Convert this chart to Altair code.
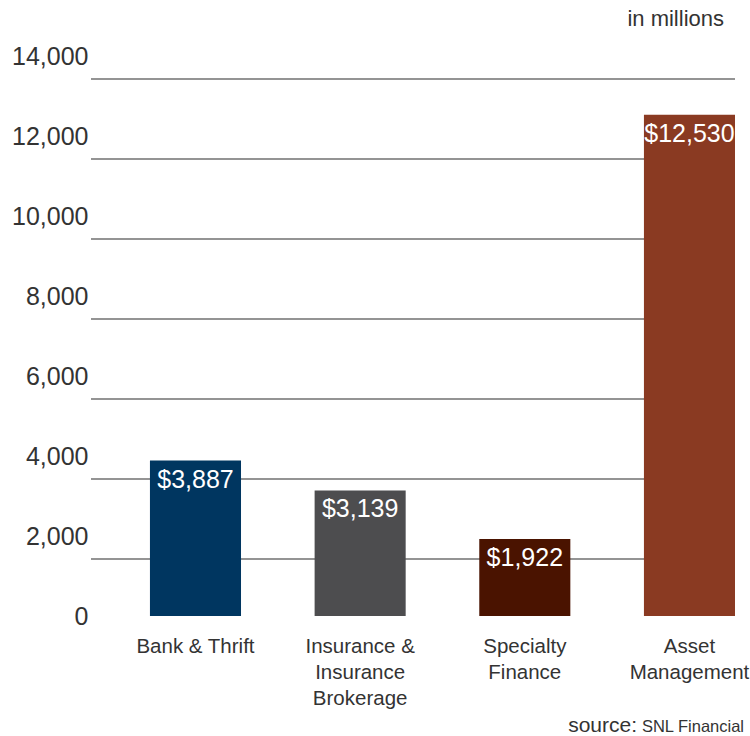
import altair as alt
import pandas as pd

# Sector totals (USD millions)
sectors = ["Bank & Thrift", "Insurance &\nInsurance\nBrokerage", "Specialty\nFinance", "Asset\nManagement"]
totals = [3887, 3139, 1922, 12530]
bar_colors = ["#003660", "#4d4d4f", "#4a1300", "#8a3a22"]
grid_values = [2000, 4000, 6000, 8000, 10000, 12000, 14000]
y_ticks = [0, 2000, 4000, 6000, 8000, 10000, 12000, 14000]

FONT = "Liberation Sans"
TEXT = "#333333"
W, H = 644, 560

bars_df = pd.DataFrame({"sector": sectors, "total": totals})
bars_df["label"] = ["$" + f"{v:,}" for v in totals]
grid_df = pd.DataFrame({"v": grid_values})

y_scale = alt.Scale(domain=[0, 14000], nice=False)
x_scale = alt.Scale(paddingInner=0.447, paddingOuter=0.179, align=1)

grid = alt.Chart(grid_df).mark_rule(color="#2b2b2b", strokeWidth=1.2, yOffset=23).encode(
    y=alt.Y("v:Q", scale=y_scale),
    x=alt.value(0),
    x2=alt.value(W),
)

x_enc = alt.X(
    "sector:N",
    sort=None,
    scale=x_scale,
    axis=alt.Axis(
        title=None,
        domain=False,
        ticks=False,
        labelAngle=0,
        labelFont=FONT,
        labelFontSize=20.5,
        labelColor=TEXT,
        labelLineHeight=26,
        labelPadding=20,
        labelBound=False,
        labelOverlap=False,
        labelExpr="split(datum.value, '\\n')",
    ),
)

bars = alt.Chart(bars_df).mark_bar().encode(
    x=x_enc,
    y=alt.Y(
        "total:Q",
        scale=y_scale,
        axis=alt.Axis(
            title=None,
            values=y_ticks,
            format=",d",
            domain=False,
            ticks=False,
            grid=False,
            labelFont=FONT,
            labelFontSize=25,
            labelColor=TEXT,
            labelPadding=3,
        ),
    ),
    color=alt.Color("sector:N", sort=None,
                    scale=alt.Scale(domain=sectors, range=bar_colors), legend=None),
)

values = alt.Chart(bars_df).mark_text(
    font=FONT, fontSize=25, color="white", baseline="middle", dy=19
).encode(
    x=alt.X("sector:N", sort=None, scale=x_scale),
    y=alt.Y("total:Q", scale=y_scale),
    text="label:N",
)

units = alt.Chart(pd.DataFrame({"t": ["in millions"]})).mark_text(
    font=FONT, fontSize=22, color=TEXT, align="right", baseline="alphabetic"
).encode(x=alt.value(633), y=alt.value(-30), text="t:N")

source_a = alt.Chart(pd.DataFrame({"t": ["source:"]})).mark_text(
    font=FONT, fontSize=21, color=TEXT, align="right", baseline="alphabetic"
).encode(x=alt.value(546), y=alt.value(676), text="t:N")

source_b = alt.Chart(pd.DataFrame({"t": ["SNL Financial"]})).mark_text(
    font=FONT, fontSize=16.5, color=TEXT, align="right", baseline="alphabetic"
).encode(x=alt.value(653), y=alt.value(676), text="t:N")

chart = (
    alt.layer(grid, bars, values, units, source_a, source_b)
    .properties(
        width=W,
        height=H,
        autosize=alt.AutoSizeParams(type="none"),
        padding={"left": 91, "top": 56, "right": 15, "bottom": 120},
        background="white",
    )
    .configure_view(stroke=None)
)

chart.save("out.html", embed_options={"renderer": "svg", "actions": False})
